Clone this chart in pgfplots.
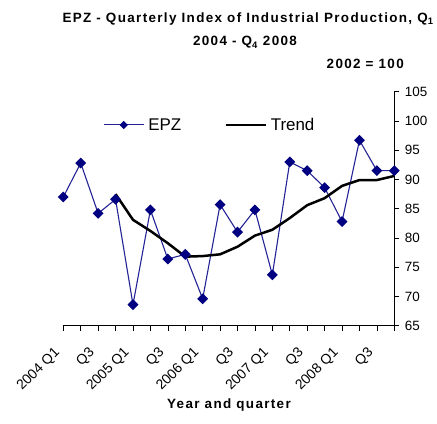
\documentclass[border=0pt]{standalone}
\usepackage{pgfplots}
\pgfplotsset{compat=1.18}
\usepackage{fontspec}
\setmainfont{Liberation Sans}
\newfontfamily\boldtitle[LetterSpace=10]{Liberation Sans}
\definecolor{epz}{RGB}{0,0,128}
\definecolor{epzline}{RGB}{35,35,150}

% EPZ quarterly index, 2004 Q1 .. 2008 Q4 (x = 0..19)
\pgfplotstableread{
x  epz
0  87.0
1  92.8
2  84.2
3  86.6
4  68.6
5  84.8
6  76.4
7  77.2
8  69.6
9  85.7
10 81.0
11 84.8
12 73.7
13 93.0
14 91.5
15 88.6
16 82.8
17 96.7
18 91.5
19 91.5
}\epzdata
\pgfplotstableread{
x  trend
3  87.5
4  83.1
5  81.2
6  79.1
7  76.8
8  76.9
9  77.2
10 78.5
11 80.4
12 81.4
13 83.4
14 85.6
15 86.8
16 88.9
17 89.9
18 89.9
19 90.6
}\trenddata

\begin{document}
\begin{tikzpicture}
\path[use as bounding box] (0bp,0bp) rectangle (437bp,424bp);
\begin{axis}[
  at={(63.3bp,98.3bp)}, anchor=south west,
  scale only axis, width=331bp, height=234bp,
  xmin=0, xmax=19, ymin=65, ymax=105,
  axis x line=bottom, axis y line=right,
  axis line style={-, black, line width=0.6pt},
  xtick={0,...,19},
  xticklabels={2004 Q1,{},Q3,{},2005 Q1,{},Q3,{},2006 Q1,{},Q3,{},2007 Q1,{},Q3,{},2008 Q1,{},Q3,{}},
  ytick={65,70,...,105},
  tick align=outside, major tick length=5bp,
  tick style={black, line width=0.6pt},
  x tick label style={rotate=45, anchor=east, inner sep=0pt, xshift=-18bp, yshift=-10bp,
    font=\fontsize{14}{16}\selectfont},
  y tick label style={font=\fontsize{13.5}{15}\selectfont, xshift=2bp, /pgf/number format/assume math mode=true},
  legend style={at={(0.12,0.858)}, anchor=west, draw=none, fill=none,
    inner sep=0pt, nodes={inner sep=0pt},
    legend columns=2, font=\fontsize{17}{19}\selectfont,
    column sep=4bp},
  legend image code/.code={\draw[mark repeat=2,mark phase=2, mark size=2.4pt] plot coordinates {(0bp,0bp) (20bp,0bp) (40bp,0bp)};},
]
\addplot[epzline, line width=1.1pt, mark=square*, mark size=3.3pt, mark options={rotate=45, epz, fill=epz}]
  table[x=x, y=epz] {\epzdata};
\addlegendentry{\makebox[72bp][l]{EPZ}}
\addplot[black, line width=2.5pt, no marks] table[x=x, y=trend] {\trenddata};
\addlegendentry{Trend}
\end{axis}
\node[anchor=base, font=\boldtitle\bfseries\fontsize{13.5}{15}\selectfont, inner sep=0] at (248bp,401.3bp)
  {EPZ - Quarterly Index of Industrial Production, Q\textsubscript{1}};
\node[anchor=base, font=\boldtitle\bfseries\fontsize{13.5}{15}\selectfont, inner sep=0] at (245bp,378bp)
  {2004 - Q\textsubscript{4} 2008};
\node[anchor=base east, font=\boldtitle\bfseries\fontsize{13.5}{15}\selectfont, inner sep=0] at (404bp,355.7bp)
  {2002 = 100};
\node[anchor=base, font=\boldtitle\bfseries\fontsize{13.5}{15}\selectfont, inner sep=0] at (229bp,16bp)
  {Year and quarter};
\end{tikzpicture}
\end{document}
